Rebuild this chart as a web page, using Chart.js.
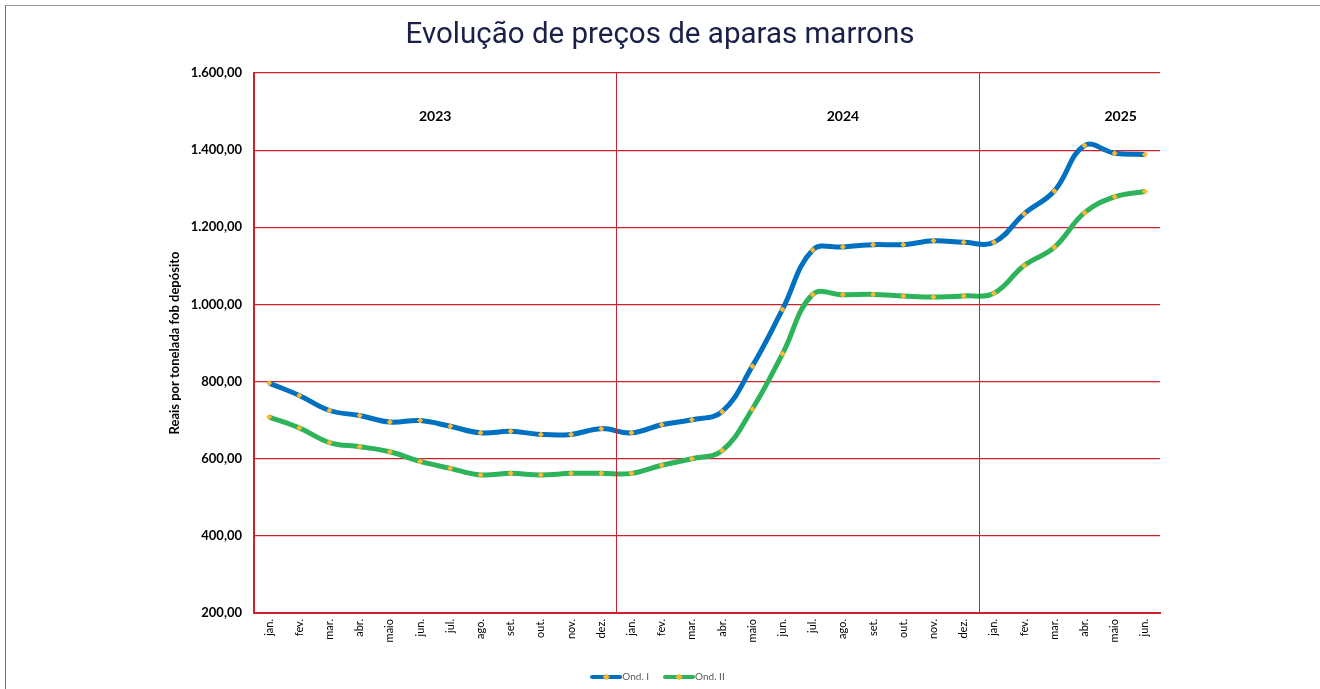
<!DOCTYPE html>
<html>
<head>
<meta charset="utf-8">
<script src="https://cdn.jsdelivr.net/npm/chart.js@4/dist/chart.umd.min.js"></script>
<style>
  html, body { margin: 0; padding: 0; background: #fff; }
  #wrap { position: relative; width: 1320px; height: 689px; }
  #frame { position: absolute; left: 5px; top: 5px; right: 0; bottom: 0;
           border-top: 1px solid #9a9a9a; border-left: 1px solid #6e6e6e; pointer-events: none; }
</style>
</head>
<body>
<div id="wrap">
  <canvas id="chart" width="1320" height="689"></canvas>
  <div id="frame"></div>
</div>
<script>
// months jan/2023 .. jun/2025
const months = [
  'jan.', 'fev.', 'mar.', 'abr.', 'maio', 'jun.', 'jul.', 'ago.', 'set.', 'out.', 'nov.', 'dez.',
  'jan.', 'fev.', 'mar.', 'abr.', 'maio', 'jun.', 'jul.', 'ago.', 'set.', 'out.', 'nov.', 'dez.',
  'jan.', 'fev.', 'mar.', 'abr.', 'maio', 'jun.'
];
const ond1 = [
  796, 764, 725, 712, 695, 699, 684, 667, 671, 663, 663, 678,
  667, 688, 701, 722, 840, 987, 1141, 1149, 1155, 1155, 1165, 1161,
  1161, 1235, 1294, 1412, 1392, 1389
];
const ond2 = [
  708, 680, 642, 631, 618, 593, 575, 558, 562, 558, 562, 562,
  562, 583, 600, 621, 729, 872, 1026, 1025, 1026, 1022, 1019, 1022,
  1029, 1101, 1148, 1238, 1279, 1293
];
const years = ['2023', '2024', '2025'];
const yearAt = [5.5, 19, 28.2];   // category index where each year label sits
const yearBreaks = [12, 24];      // first month of a new year

const BLUE = '#0070C0';
const GREEN = '#2DB35A';
const GOLD = '#FDB82F';
const RED = '#D0212B';

function fmt(v) {
  let s = Math.round(v).toString();
  s = s.replace(/\B(?=(\d{3})+(?!\d))/g, '.');
  return s + ',00';
}

// little legend swatch: thick line with a marker in the middle
function swatch(color) {
  const c = document.createElement('canvas');
  c.width = 32; c.height = 8;
  const g = c.getContext('2d');
  g.strokeStyle = color;
  g.lineWidth = 4;
  g.lineCap = 'round';
  g.beginPath(); g.moveTo(2, 4); g.lineTo(30, 4); g.stroke();
  g.fillStyle = GOLD;
  g.beginPath(); g.moveTo(16, 0.5); g.lineTo(19.5, 4); g.lineTo(16, 7.5); g.lineTo(12.5, 4); g.closePath(); g.fill();
  return c;
}

const yearPlugin = {
  id: 'years',
  afterDatasetsDraw(chart) {
    const ctx = chart.ctx;
    const x = chart.scales.x, y = chart.scales.y;
    const area = chart.chartArea;
    ctx.save();
    ctx.strokeStyle = RED;
    ctx.lineWidth = 1;
    yearBreaks.forEach(b => {
      const px = Math.round((x.getPixelForValue(b - 1) + x.getPixelForValue(b)) / 2) + 0.5;
      ctx.beginPath(); ctx.moveTo(px, area.top); ctx.lineTo(px, area.bottom); ctx.stroke();
    });
    ctx.fillStyle = '#000';
    ctx.font = 'bold 14px Lato';
    ctx.textAlign = 'center';
    ctx.textBaseline = 'middle';
    years.forEach((t, i) => {
      ctx.fillText(t, x.getPixelForValue(yearAt[i]), y.getPixelForValue(1488));
    });
    ctx.restore();
  }
};

new Chart(document.getElementById('chart'), {
  type: 'line',
  data: {
    labels: months,
    datasets: [
      { label: 'Ond. I', data: ond1, borderColor: BLUE, backgroundColor: BLUE },
      { label: 'Ond. II', data: ond2, borderColor: GREEN, backgroundColor: GREEN }
    ]
  },
  options: {
    responsive: false,
    animation: false,
    layout: { padding: { left: 0, right: 0, top: 0, bottom: -3 } },
    elements: {
      line: { borderWidth: 5, tension: 0.4, cubicInterpolationMode: 'default' },
      point: { pointStyle: 'rectRot', radius: 3, borderWidth: 0, backgroundColor: GOLD, hoverRadius: 3 }
    },
    datasets: { line: { pointBackgroundColor: GOLD, pointBorderColor: GOLD } },
    plugins: {
      title: {
        display: true,
        text: 'Evolução de preços de aparas marrons',
        color: '#1B2048',
        font: { family: 'Roboto', size: 29.5, weight: 'normal', lineHeight: 1.2 },
        padding: { top: 18, bottom: 19.6 }
      },
      legend: {
        position: 'bottom',
        labels: {
          usePointStyle: true,
          pointStyleWidth: 22,
          padding: 19,
          color: '#595959',
          font: { family: 'Lato', size: 10 },
          generateLabels(chart) {
            return chart.data.datasets.map((d, i) => ({
              text: d.label,
              pointStyle: swatch(d.borderColor),
              fillStyle: d.borderColor,
              strokeStyle: d.borderColor,
              lineWidth: 0,
              fontColor: '#595959',
              datasetIndex: i
            }));
          }
        }
      },
      tooltip: { enabled: false }
    },
    scales: {
      x: {
        offset: true,
        grid: { display: false, drawTicks: false },
        border: { display: true, color: RED, width: 2 },
        ticks: {
          autoSkip: false,
          minRotation: 90,
          maxRotation: 90,
          padding: 6,
          color: '#000',
          font: { family: 'Lato', size: 11 }
        },
        afterFit(s) { s.height = 40; }
      },
      y: {
        min: 200,
        max: 1600,
        grid: { color: RED, lineWidth: 1.2, drawTicks: false },
        border: { display: true, color: RED, width: 2 },
        ticks: {
          stepSize: 200,
          padding: 12,
          color: '#000',
          font: { family: 'Lato', size: 13, weight: 'bold' },
          callback: v => fmt(v)
        },
        title: {
          display: true,
          text: 'Reais por tonelada fob depósito',
          color: '#000',
          font: { family: 'Lato', size: 13, weight: 'bold', lineHeight: 1.2 },
          padding: { top: 167, bottom: 0 }
        },
        afterFit(s) { s.width = 254; }
      },
      // empty right-hand axis, only reserves the blank margin on the right
      yRight: {
        position: 'right',
        min: 200,
        max: 1600,
        grid: { display: false, drawTicks: false },
        border: { display: false },
        ticks: { display: false },
        afterFit(s) { s.width = 160; }
      }
    }
  },
  plugins: [yearPlugin]
});
</script>
</body>
</html>
